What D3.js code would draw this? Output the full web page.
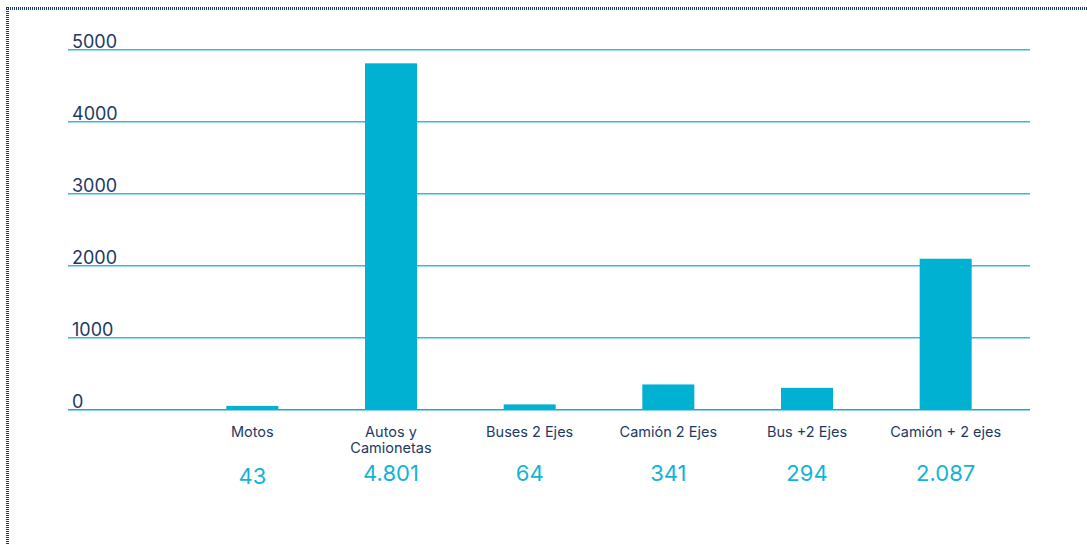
<!DOCTYPE html>
<html>
<head>
<meta charset="utf-8">
<script src="https://cdn.jsdelivr.net/npm/d3@7"></script>
<style>
  html, body { margin: 0; padding: 0; background: #fff; }
  svg { display: block; }
  .tick-label { font-family: Inter, Roboto, sans-serif; font-size: 18px; fill: #1d3a64; }
  .cat-label { font-family: Inter, Roboto, sans-serif; font-size: 14.5px; fill: #1d3a64; }
  .val-label { font-family: Inter, Roboto, sans-serif; font-size: 22px; fill: #12b4d6; }
</style>
</head>
<body>
<svg id="chart" width="1087" height="544"></svg>
<script>
// ---- data ----
const categories = ["Motos", "Autos y\nCamionetas", "Buses 2 Ejes", "Camión 2 Ejes", "Bus +2 Ejes", "Camión + 2 ejes"];
const values = [43, 4801, 64, 341, 294, 2087];
const valueLabels = ["43", "4.801", "64", "341", "294", "2.087"];
const yTicks = [0, 1000, 2000, 3000, 4000, 5000];

const svg = d3.select("#chart");
const width = +svg.attr("width");
const height = +svg.attr("height");

// dotted frame (top + left)
svg.append("line")
  .attr("x1", 6).attr("y1", 8.5).attr("x2", width).attr("y2", 8.5)
  .attr("stroke", "#1a3a6c").attr("stroke-width", 3).attr("stroke-dasharray", "1,1");
svg.append("line")
  .attr("x1", 7.5).attr("y1", 7).attr("x2", 7.5).attr("y2", height)
  .attr("stroke", "#1a3a6c").attr("stroke-width", 3).attr("stroke-dasharray", "1,1");

const x = d3.scaleBand()
  .domain(categories)
  .range([183, 1015])
  .paddingInner(0.625)
  .paddingOuter(0.3125);

const y = d3.scaleLinear().domain([0, 5000]).range([409, 49]);

// gridlines + tick labels
const grid = svg.append("g");
grid.selectAll("line").data(yTicks).join("line")
  .attr("x1", 68).attr("x2", 1030)
  .attr("y1", d => Math.round(y(d)) + 0.75).attr("y2", d => Math.round(y(d)) + 0.75)
  .attr("stroke", d => d === 0 ? "#1ea6d2" : "#3db5e0").attr("stroke-width", 1.5);
grid.selectAll("text").data(yTicks).join("text")
  .attr("class", "tick-label")
  .attr("x", 72).attr("y", d => y(d) - 1)
  .text(d => d);

// bars
svg.append("g").selectAll("rect").data(values).join("rect")
  .attr("x", (d, i) => x(categories[i]))
  .attr("width", x.bandwidth())
  .attr("y", d => y(d))
  .attr("height", d => y(0) - y(d))
  .attr("fill", "#00b1d2");

// category labels
const cats = svg.append("g").selectAll("text").data(categories).join("text")
  .attr("class", "cat-label")
  .attr("text-anchor", "middle")
  .attr("x", d => x(d) + x.bandwidth() / 2)
  .attr("y", 437);
cats.selectAll("tspan").data(d => d.split("\n")).join("tspan")
  .attr("x", function() { return d3.select(this.parentNode).attr("x"); })
  .attr("dy", (d, i) => i === 0 ? 0 : 16)
  .text(d => d);

// value labels
svg.append("g").selectAll("text").data(valueLabels).join("text")
  .attr("class", "val-label")
  .attr("text-anchor", "middle")
  .attr("x", (d, i) => x(categories[i]) + x.bandwidth() / 2)
  .attr("y", (d, i) => i === 0 ? 484 : 481)
  .text(d => d);
</script>
</body>
</html>
